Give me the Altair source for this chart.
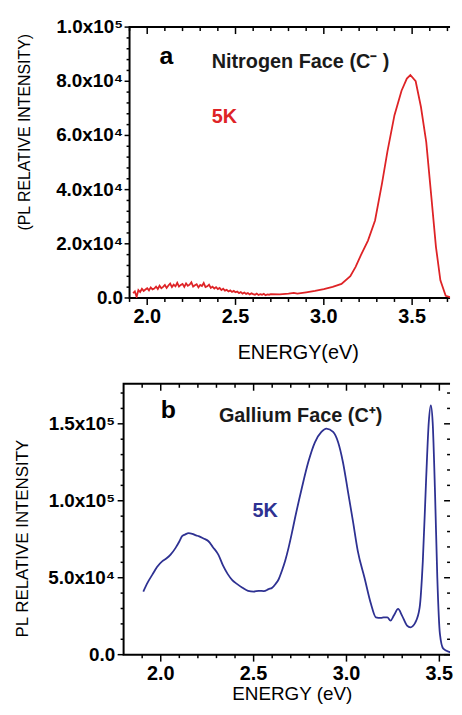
import altair as alt
import pandas as pd

RED = "#de2326"
BLUE = "#2e3192"
INK = "#1a1a1a"
FONT = "Liberation Sans"

# ---------------- panel a : Nitrogen face (intensity in units of 1e3) ----------------
a_energy = [1.92, 1.93, 1.94, 1.95, 1.96, 1.97, 1.98, 1.99, 2.00, 2.01,
            2.02, 2.03, 2.04, 2.05, 2.06, 2.07, 2.08, 2.09, 2.10, 2.11,
            2.12, 2.13, 2.14, 2.15, 2.16, 2.17, 2.18, 2.19, 2.20, 2.21,
            2.22, 2.23, 2.24, 2.25, 2.26, 2.27, 2.28, 2.29, 2.30, 2.31,
            2.32, 2.33, 2.34, 2.35, 2.36, 2.37, 2.38, 2.39, 2.40, 2.41,
            2.42, 2.43, 2.44, 2.45, 2.46, 2.47, 2.48, 2.49, 2.50, 2.51,
            2.52, 2.53, 2.54, 2.55, 2.56, 2.57, 2.58, 2.59, 2.60, 2.61,
            2.62, 2.63, 2.64, 2.65, 2.66, 2.67, 2.68, 2.69, 2.70, 2.75,
            2.80, 2.83, 2.85, 2.90, 2.95, 3.00, 3.05, 3.10, 3.15, 3.18,
            3.21, 3.25, 3.29, 3.33, 3.36, 3.40, 3.44, 3.47, 3.49, 3.52,
            3.55, 3.58, 3.61, 3.635, 3.66, 3.69, 3.72, 3.76]
a_intensity_k = [1.8, 2.4, 0.4, 2.9, 2.2, 3.4, 2.6, 3.1, 3.6, 2.8,
                 3.9, 3.2, 3.5, 4.2, 3.3, 4.5, 3.6, 4.1, 4.8, 3.7,
                 4.6, 5.3, 4.0, 4.9, 4.3, 5.6, 4.2, 4.8, 5.2, 4.1,
                 5.4, 4.5, 4.9, 5.8, 4.2, 4.7, 5.1, 3.9, 4.8, 4.4,
                 5.5, 4.0, 4.3, 4.9, 3.7, 4.2, 3.5, 4.0, 3.3, 3.7,
                 2.9, 3.4, 2.7, 3.0, 2.4, 2.8, 2.2, 2.6, 2.1, 2.4,
                 1.8, 2.2, 1.6, 2.0, 1.5, 1.8, 1.3, 1.7, 1.4, 1.2,
                 1.6, 1.1, 1.4, 1.2, 1.5, 1.0, 1.3, 1.2, 1.4, 1.3,
                 1.6, 1.9, 1.6, 2.1, 2.6, 3.3, 4.1, 5.2, 8.0, 11.5,
                 15.8, 21.2, 28.6, 42.5, 54.0, 67.5, 76.5, 81.0, 82.3, 80.0,
                 70.5, 57.5, 36.5, 18.8, 6.5, 0.8, 0.2, 0.1]

# ---------------- panel b : Gallium face (intensity in units of 1e3) ----------------
b_energy = [1.906, 1.93, 1.955, 1.98, 2.009, 2.03, 2.053, 2.08, 2.10, 2.115,
            2.13, 2.15, 2.17, 2.19, 2.204, 2.23, 2.257, 2.28, 2.31, 2.335,
            2.36, 2.385, 2.41, 2.44, 2.47, 2.50, 2.528, 2.555, 2.581, 2.60,
            2.617, 2.635, 2.652, 2.67, 2.688, 2.705, 2.723, 2.759, 2.794, 2.83,
            2.865, 2.892, 2.928, 2.955, 2.981, 3.008, 3.035, 3.061, 3.097, 3.132,
            3.158, 3.185, 3.20, 3.22, 3.237, 3.255, 3.278, 3.299, 3.326, 3.344,
            3.371, 3.394, 3.411, 3.429, 3.443, 3.454, 3.464, 3.477, 3.489, 3.503,
            3.521, 3.556, 3.597]
b_intensity_k = [41, 47, 52, 57, 60.8, 62.5, 65, 69.4, 73.5, 77,
                 78, 79, 78.5, 77.5, 77, 75.5, 73.7, 70, 65, 58,
                 52.5, 48.5, 46, 43.5, 41.5, 41, 41.5, 41.3, 42.6, 43.5,
                 45.8, 49, 54.4, 61, 69.4, 78.5, 88.8, 108, 125, 138,
                 144.7, 146.9, 144.7, 138, 125, 106, 86.6, 67.3, 50, 32.9,
                 24.3, 23.9, 24.2, 24.3, 22.1, 25.4, 29.7, 25.4, 18.9, 17.8,
                 21, 30.7, 60.8, 114.6, 151, 162, 151, 103.9, 50, 13.5,
                 3.9, 1.7, 0.6]

# ---------------- ticks and tick labels ----------------
x_major = [2.0, 2.5, 3.0, 3.5]
x_major_labels = ["2.0", "2.5", "3.0", "3.5"]
a_x_minor = [1.9, 2.1, 2.2, 2.3, 2.4, 2.6, 2.7, 2.8, 2.9, 3.1, 3.2, 3.3, 3.4, 3.6, 3.7]
b_x_minor = [1.9, 2.1, 2.2, 2.3, 2.4, 2.6, 2.7, 2.8, 2.9, 3.1, 3.2, 3.3, 3.4]
a_y_major = [0, 20000, 40000, 60000, 80000, 100000]
a_y_labels = ["0.0", "2.0x10⁴", "4.0x10⁴", "6.0x10⁴", "8.0x10⁴", "1.0x10⁵"]
a_y_minor = [4000 * i for i in range(1, 25) if i % 5]
b_y_major = [0, 50000, 100000, 150000]
b_y_labels = ["0.0", "5.0x10⁴", "1.0x10⁵", "1.5x10⁵"]
b_y_minor = [10000 * i for i in range(1, 18) if i % 5]

# ---------------- annotations ----------------
a_texts = ["a", "Nitrogen Face (C⁻ )", "5K"]
a_text_x = [2.108, 2.365, 2.365]
a_text_y = [86400, 85000, 64600]
b_texts = ["b", "Gallium Face (C⁺)", "5K"]
b_text_x = [2.041, 2.313, 2.494]
b_text_y = [154000, 150900, 89200]

H = 273  # plot height of each panel
W = 329  # plot width of each panel


def seg_layer(paths, xs, ys, width):
    """Draw polylines (lists of (x, y) in data units) through the panel scales."""
    rows = []
    for i, pts in enumerate(paths):
        for j, (x, y) in enumerate(pts):
            rows.append({"id": i, "o": j, "x": x, "y": y})
    return alt.Chart(pd.DataFrame(rows)).mark_line(
        color="black", strokeWidth=width, strokeCap="butt").encode(
        x=alt.X("x:Q", scale=xs, axis=None),
        y=alt.Y("y:Q", scale=ys, axis=None),
        detail="id:N", order="o:Q")


def tick_labels(vals, labels, xs, ys, orient, pos, size, align, baseline):
    tdf = pd.DataFrame({"v": vals, "t": labels})
    m = alt.Chart(tdf).mark_text(font=FONT, fontWeight="bold", fontSize=size,
                                 align=align, baseline=baseline, color="black")
    if orient == "x":
        return m.encode(x=alt.X("v:Q", scale=xs, axis=None), y=alt.value(pos), text="t:N")
    return m.encode(y=alt.Y("v:Q", scale=ys, axis=None), x=alt.value(pos), text="t:N")


def axis_title(text, x, y, size, angle):
    tdf = pd.DataFrame({"t": [text]})
    return alt.Chart(tdf).mark_text(font=FONT, fontWeight="normal", fontSize=size,
                                    align="center", baseline="middle" if angle else "alphabetic",
                                    angle=angle, color="black").encode(
        x=alt.value(x), y=alt.value(y), text="t:N")


def panel(energy, inten_k, color, interp, xdom, ydom, x0,
          x_minor, y_major, y_labels, y_minor,
          ytitle, ytitle_xy, ytitle_size, ylabel_x,
          xtitle, xtitle_xy, xtitle_size,
          tk, texts, tx, ty, right_ticks):
    w, h = W, H
    kx = w / (xdom[1] - xdom[0])      # px per eV
    ky = h / (ydom[1] - ydom[0])      # px per count
    xl = xdom[0] + x0 / kx            # energy at the left frame
    xr, yb, yt = xdom[1], ydom[0], ydom[1]
    df = pd.DataFrame({"E": energy, "I": [v * 1000 for v in inten_k]})
    xs = alt.Scale(domain=xdom, nice=False, zero=False)
    ys = alt.Scale(domain=ydom, nice=False, zero=False)

    frame = [[(xr, yt), (xl, yt), (xl, yb), (xr, yb)]]
    ticks = []
    for v in x_major:
        ticks.append([(v, yb), (v, yb - tk["bx_major"] / ky)])
        ticks.append([(v, yt), (v, yt - tk["tx_major"] / ky)])
    for v in x_minor:
        ticks.append([(v, yb), (v, yb - tk["bx_minor"] / ky)])
        ticks.append([(v, yt), (v, yt - tk["tx_minor"] / ky)])
    for v in y_major:
        ticks.append([(xl - tk["ly_major"] / kx, v), (xl, v)])
        if right_ticks:
            ticks.append([(xr - 6 / kx, v), (xr, v)])
    for v in y_minor:
        ticks.append([(xl - tk["ly_minor"] / kx, v), (xl, v)])
        if right_ticks:
            ticks.append([(xr - 3 / kx, v), (xr, v)])

    line = alt.Chart(df).mark_line(color=color, strokeWidth=1.8, interpolate=interp,
                                   clip=True).encode(
        x=alt.X("E:Q", scale=xs, axis=None),
        y=alt.Y("I:Q", scale=ys, axis=None),
    )
    layers = [
        seg_layer(ticks, xs, ys, 1.5),
        seg_layer(frame, xs, ys, 2),
        tick_labels(x_major, x_major_labels, xs, ys, "x", h + 25.3, 20, "center", "alphabetic"),
        tick_labels(y_major, y_labels, xs, ys, "y", ylabel_x, 19, "right", "middle"),
        axis_title(xtitle, xtitle_xy[0], xtitle_xy[1], xtitle_size, 0),
        axis_title(ytitle, ytitle_xy[0], ytitle_xy[1], ytitle_size, 270),
        line,
    ]
    sizes = [25, 20, 20]
    aligns = ["center", "left", "left"]
    colors = ["black", INK, color]
    for t, x, y, s, al, c in zip(texts, tx, ty, sizes, aligns, colors):
        tdf = pd.DataFrame({"x": [x], "y": [y], "t": [t]})
        layers.append(alt.Chart(tdf).mark_text(
            font=FONT, fontWeight="bold", fontSize=s, align=al, baseline="alphabetic",
            color=c).encode(
            x=alt.X("x:Q", scale=xs, axis=None),
            y=alt.Y("y:Q", scale=ys, axis=None),
            text="t:N"))
    return alt.layer(*layers).properties(width=w, height=h)


# panel a: plot origin shared with b; its frame starts 6 px to the right (E = 1.9)
pa = panel(a_energy, a_intensity_k, RED, "linear",
           [1.9 - 6 / 178.0, 1.9 - 6 / 178.0 + W / 178.0], [0, 100000], 6,
           a_x_minor, a_y_major, a_y_labels, a_y_minor,
           "(PL RELATIVE INTENSITY)", (-99, 106), 16, -0.5,
           "ENERGY(eV)", (176, H + 61.5), 20,
           {"bx_major": 7, "bx_minor": 4, "tx_major": 7, "tx_minor": 4,
            "ly_major": 5, "ly_minor": 3},
           a_texts, a_text_x, a_text_y, False)

pb = panel(b_energy, b_intensity_k, BLUE, "monotone",
           [1.8, 1.8 + W / 187.2], [0, 176000], 0,
           b_x_minor, b_y_major, b_y_labels, b_y_minor,
           "PL RELATIVE INTENSITY", (-101, 156), 17, -8.5,
           "ENERGY (eV)", (170, H + 46), 19,
           {"bx_major": 7, "bx_minor": 3.5, "tx_major": 7, "tx_minor": 4,
            "ly_major": 6, "ly_minor": 3},
           b_texts, b_text_x, b_text_y, True)

chart = alt.vconcat(pa, pb, spacing=16.5,
                    padding={"left": 6.5, "top": 7.5, "right": 0, "bottom": 0}).configure_view(
    stroke=None)

chart.save("out.html", embed_options={"renderer": "svg", "actions": False})
